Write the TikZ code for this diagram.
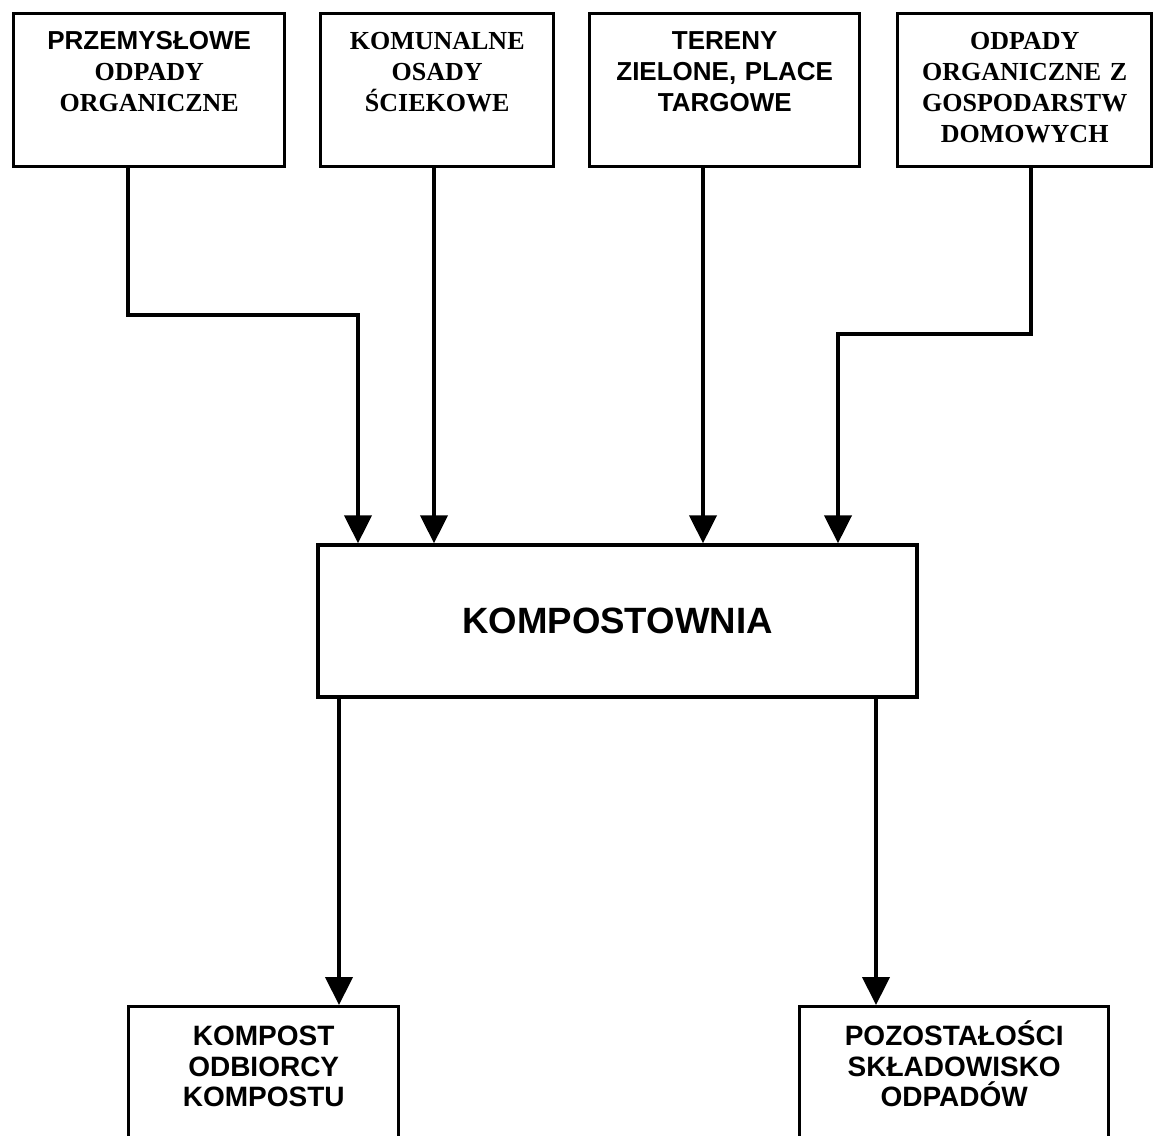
\documentclass[tikz,border=0pt]{standalone}
\usepackage{fontspec}
\setmainfont{Liberation Serif}
\setsansfont{Liberation Sans}
\usetikzlibrary{arrows.meta}
\begin{document}
\begin{tikzpicture}[x=0.5pt,y=-0.5pt,srcbox/.style={draw,line width=1.7pt,inner sep=0pt,anchor=north west,align=center,text height=18pt,text depth=58.5pt,font=\fontsize{13pt}{15.4pt}\selectfont\bfseries},sinkbox/.style={srcbox,text height=19.5pt,text depth=70pt,font=\fontsize{14pt}{15.3pt}\selectfont\sffamily\bfseries},flow/.style={line width=2.1pt,-{Triangle[length=14pt,width=13.5pt]}}]
	\useasboundingbox (0,0) rectangle (1154,1135);
	\clip (0,0) rectangle (1154,1135);
	\node[srcbox,text width=135.5pt] (przem) at (12,12) {{\sffamily PRZEMYSŁOWE}\\ODPADY\\ORGANICZNE};
	\node[srcbox,text width=116.5pt] (komun) at (319,12) {KOMUNALNE\\OSADY\\ŚCIEKOWE};
	\node[srcbox,text width=135pt] (teren) at (588,12) {\sffamily TERENY\\ZIELONE, PLACE\\TARGOWE};
	\node[srcbox,text width=127pt] (gosp) at (896,12) {ODPADY\\ORGANICZNE Z\\GOSPODARSTW\\DOMOWYCH};
	\node[draw,line width=1.7pt,minimum width=299.5pt,minimum height=76pt,font=\fontsize{18.3pt}{22pt}\selectfont\sffamily\bfseries] (komp) at (617.5,621) {KOMPOSTOWNIA};
	\node[sinkbox,text width=135pt] (kompost) at (127,1005) {KOMPOST\\ODBIORCY\\KOMPOSTU};
	\node[sinkbox,text width=154.5pt] (pozost) at (798,1005) {POZOSTAŁOŚCI\\SKŁADOWISKO\\ODPADÓW};
	\draw[flow] (przem.south -| 128,0) |- (358,315) -- (komp.north -| 358,0);
	\draw[flow] (komun.south -| 434,0) -- (komp.north -| 434,0);
	\draw[flow] (teren.south -| 703,0) -- (komp.north -| 703,0);
	\draw[flow] (gosp.south -| 1031,0) |- (838,334) -- (komp.north -| 838,0);
	\draw[flow] (komp.south -| 339,0) -- (kompost.north -| 339,0);
	\draw[flow] (komp.south -| 876,0) -- (pozost.north -| 876,0);
\end{tikzpicture}
\end{document}
